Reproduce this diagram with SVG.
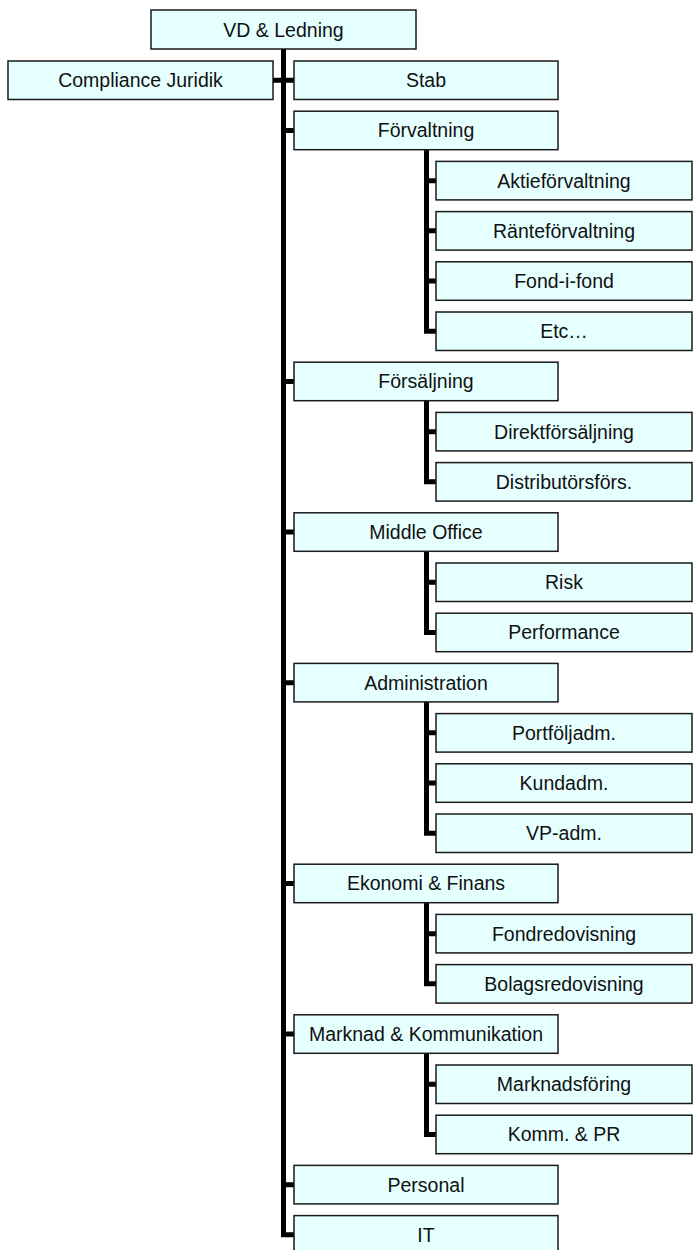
<svg xmlns="http://www.w3.org/2000/svg" width="694" height="1250" viewBox="0 0 694 1250">
<style>
.box{fill:#E6FFFF;stroke:#1a1a1a;stroke-width:1.5}
.t{font-family:"Liberation Sans",Arial,sans-serif;font-size:19.5px;fill:#111;text-anchor:middle}
.c{fill:none;stroke:#000;stroke-width:5;stroke-linejoin:miter;stroke-linecap:butt}
</style>
<rect width="694" height="1250" fill="#fff"/>
<g id="connectors">
<path class="c" d="M283.5,49 V1234.85 H294"/>
<path class="c" d="M273,80.25 H294"/>
<path class="c" d="M283.5,130.45 H294 M283.5,381.45 H294 M283.5,532.05 H294 M283.5,682.65 H294 M283.5,883.45 H294 M283.5,1034.05 H294 M283.5,1184.65 H294"/>
<path class="c" d="M426.5,149.7 V331.25 H436 M426.5,180.65 H436 M426.5,230.85 H436 M426.5,281.05 H436"/>
<path class="c" d="M426.5,400.7 V481.85 H436 M426.5,431.65 H436"/>
<path class="c" d="M426.5,551.3 V632.45 H436 M426.5,582.25 H436"/>
<path class="c" d="M426.5,701.9 V833.25 H436 M426.5,732.85 H436 M426.5,783.05 H436"/>
<path class="c" d="M426.5,902.7 V983.85 H436 M426.5,933.65 H436"/>
<path class="c" d="M426.5,1053.3 V1134.45 H436 M426.5,1084.25 H436"/>
</g>
<g id="vd"><rect class="box" x="151" y="10" width="265" height="39"/><text class="t" x="283.5" y="36.5">VD &amp; Ledning</text></g>
<g id="compliance"><rect class="box" x="8" y="61" width="265" height="38.5"/><text class="t" x="140.5" y="87.25">Compliance Juridik</text></g>
<g id="stab"><rect class="box" x="294" y="61" width="264" height="38.5"/><text class="t" x="426" y="87.25">Stab</text></g>
<g id="forvaltning"><rect class="box" x="294" y="111.2" width="264" height="38.5"/><text class="t" x="426" y="137.45">Förvaltning</text></g>
<g id="aktie"><rect class="box" x="436" y="161.4" width="256" height="38.5"/><text class="t" x="564" y="187.65">Aktieförvaltning</text></g>
<g id="rante"><rect class="box" x="436" y="211.6" width="256" height="38.5"/><text class="t" x="564" y="237.85">Ränteförvaltning</text></g>
<g id="fond"><rect class="box" x="436" y="261.8" width="256" height="38.5"/><text class="t" x="564" y="288.05">Fond-i-fond</text></g>
<g id="etc"><rect class="box" x="436" y="312" width="256" height="38.5"/><text class="t" x="564" y="338.25">Etc…</text></g>
<g id="forsaljning"><rect class="box" x="294" y="362.2" width="264" height="38.5"/><text class="t" x="426" y="388.45">Försäljning</text></g>
<g id="direkt"><rect class="box" x="436" y="412.4" width="256" height="38.5"/><text class="t" x="564" y="438.65">Direktförsäljning</text></g>
<g id="distrib"><rect class="box" x="436" y="462.6" width="256" height="38.5"/><text class="t" x="564" y="488.85">Distributörsförs.</text></g>
<g id="middle"><rect class="box" x="294" y="512.8" width="264" height="38.5"/><text class="t" x="426" y="539.05">Middle Office</text></g>
<g id="risk"><rect class="box" x="436" y="563" width="256" height="38.5"/><text class="t" x="564" y="589.25">Risk</text></g>
<g id="performance"><rect class="box" x="436" y="613.2" width="256" height="38.5"/><text class="t" x="564" y="639.45">Performance</text></g>
<g id="administration"><rect class="box" x="294" y="663.4" width="264" height="38.5"/><text class="t" x="426" y="689.65">Administration</text></g>
<g id="portfolj"><rect class="box" x="436" y="713.6" width="256" height="38.5"/><text class="t" x="564" y="739.85">Portföljadm.</text></g>
<g id="kund"><rect class="box" x="436" y="763.8" width="256" height="38.5"/><text class="t" x="564" y="790.05">Kundadm.</text></g>
<g id="vp"><rect class="box" x="436" y="814" width="256" height="38.5"/><text class="t" x="564" y="840.25">VP-adm.</text></g>
<g id="ekonomi"><rect class="box" x="294" y="864.2" width="264" height="38.5"/><text class="t" x="426" y="890.45">Ekonomi &amp; Finans</text></g>
<g id="fondred"><rect class="box" x="436" y="914.4" width="256" height="38.5"/><text class="t" x="564" y="940.65">Fondredovisning</text></g>
<g id="bolag"><rect class="box" x="436" y="964.6" width="256" height="38.5"/><text class="t" x="564" y="990.85">Bolagsredovisning</text></g>
<g id="marknad"><rect class="box" x="294" y="1014.8" width="264" height="38.5"/><text class="t" x="426" y="1041.05">Marknad &amp; Kommunikation</text></g>
<g id="marknadsforing"><rect class="box" x="436" y="1065" width="256" height="38.5"/><text class="t" x="564" y="1091.25">Marknadsföring</text></g>
<g id="komm"><rect class="box" x="436" y="1115.2" width="256" height="38.5"/><text class="t" x="564" y="1141.45">Komm. &amp; PR</text></g>
<g id="personal"><rect class="box" x="294" y="1165.4" width="264" height="38.5"/><text class="t" x="426" y="1191.65">Personal</text></g>
<g id="it"><rect class="box" x="294" y="1215.6" width="264" height="38.5"/><text class="t" x="426" y="1241.85">IT</text></g>
</svg>
